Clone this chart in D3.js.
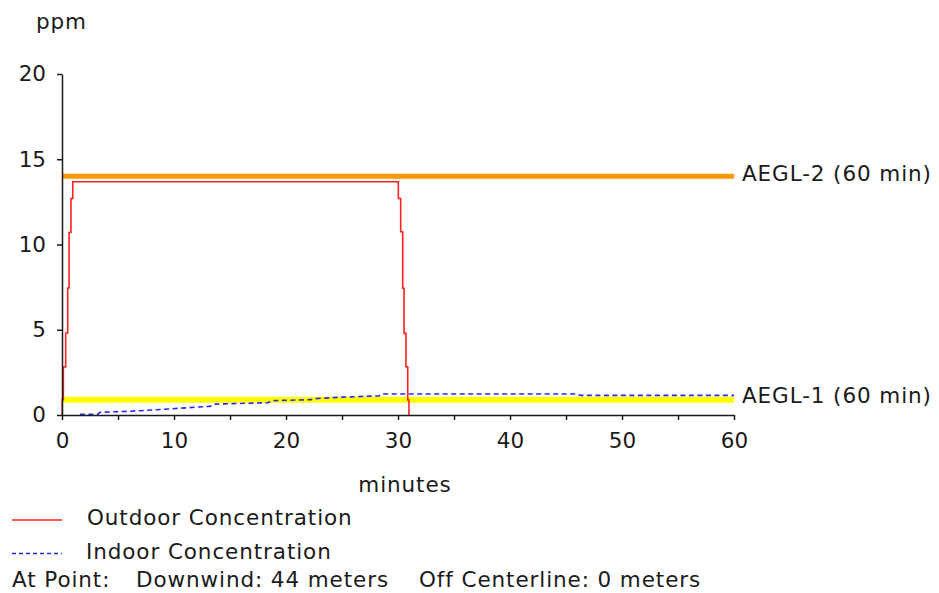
<!DOCTYPE html>
<html>
<head>
<meta charset="utf-8">
<script src="https://cdn.jsdelivr.net/npm/d3@7"></script>
<style>
  body { margin: 0; background: #fff; }
  svg text { font-family: "DejaVu Sans", Verdana, sans-serif; fill: #1a1a1a; font-size: 21.5px; }
  .label { letter-spacing: 0.9px; }
</style>
</head>
<body>
<svg id="chart" width="939" height="593"></svg>
<script>
// Outdoor concentration (ppm) by time (minutes); each value holds until the next time
const outdoorTimes  = [0, 0.02, 0.12, 0.33, 0.51, 0.63, 0.8, 0.96, 30.03, 30.24, 30.42, 30.54, 30.71, 30.87, 30.98];
const outdoorValues = [0, 0.9, 2.82, 4.81, 7.45, 10.7, 12.7, 13.68, 12.7, 10.75, 7.43, 4.79, 2.83, 0.88, 0];

// Indoor concentration (ppm) by time (minutes)
const indoorTimes  = [1.6, 3.2, 3.4, 6, 9, 12, 13.4, 13.7, 18.4, 18.7, 22.3, 22.6, 25, 28.3, 28.6, 46, 46.3, 60];
const indoorValues = [0.04, 0.05, 0.16, 0.22, 0.33, 0.46, 0.52, 0.64, 0.72, 0.84, 0.9, 0.96, 1.05, 1.12, 1.23, 1.23, 1.15, 1.15];

// Threshold levels
const aeglNames  = ["AEGL-2 (60 min)", "AEGL-1 (60 min)"];
const aeglValues = [14, 0.9];
const aeglColors = ["#ff9900", "#ffff00"];

const xTicks = [0, 5, 10, 15, 20, 25, 30, 35, 40, 45, 50, 55, 60];
const xTickLabels = [0, 10, 20, 30, 40, 50, 60];
const yTicks = [0, 5, 10, 15, 20];

const svg = d3.select("#chart");
const x = d3.scaleLinear().domain([0, 60]).range([62, 734]);
const y = d3.scaleLinear().domain([0, 20]).range([415, 74]);

// threshold bands
const aegl = aeglNames.map((n, i) => ({ name: n, value: aeglValues[i], color: aeglColors[i] }));
svg.selectAll("line.aegl").data(aegl).join("line")
  .attr("class", "aegl")
  .attr("x1", x(0)).attr("x2", x(60))
  .attr("y1", d => y(d.value)).attr("y2", d => y(d.value))
  .attr("stroke", d => d.color)
  .attr("stroke-width", (d, i) => i === 0 ? 5 : 6);
svg.selectAll("text.aegl").data(aegl).join("text")
  .attr("class", "aegl label")
  .attr("x", x(60) + 8).attr("y", (d, i) => y(d.value) + (i === 0 ? 5 : 3.5))
  .text(d => d.name);

// concentration lines
const outdoor = outdoorTimes.map((t, i) => [t, outdoorValues[i]]);
const indoor = indoorTimes.map((t, i) => [t, indoorValues[i]]);
const line = d3.line().x(d => x(d[0])).y(d => y(d[1]));
const stepLine = d3.line().x(d => x(d[0])).y(d => y(d[1])).curve(d3.curveStepAfter);

svg.append("path").datum(indoor)
  .attr("d", line)
  .attr("fill", "none")
  .attr("stroke", "#2a2aee")
  .attr("stroke-width", 1.6)
  .attr("stroke-dasharray", "5,3.5");

svg.append("path").datum(outdoor)
  .attr("d", stepLine)
  .attr("fill", "none")
  .attr("stroke", "#ff2020")
  .attr("stroke-width", 1.6);

// axes
const xAxis = d3.axisBottom(x).tickValues(xTicks).tickSize(5).tickSizeOuter(0)
  .tickFormat(d => xTickLabels.includes(d) ? d : "");
const gx = svg.append("g").attr("transform", `translate(0,${y(0)})`).call(xAxis);
const yAxis = d3.axisLeft(y).tickValues(yTicks).tickSize(5).tickSizeOuter(0);
const gy = svg.append("g").attr("transform", `translate(${x(0)},0)`).call(yAxis);

[gx, gy].forEach(g => {
  g.select(".domain").attr("stroke", "#1a1a1a").attr("stroke-width", 1.5);
  g.selectAll(".tick line").attr("stroke", "#1a1a1a").attr("stroke-width", 1.5);
  g.selectAll(".tick text").attr("fill", "#1a1a1a")
    .style("font-size", "21.5px")
    .style("font-family", "'DejaVu Sans', Verdana, sans-serif");
});
gx.selectAll(".tick text").attr("y", 33).attr("dy", 0);
gy.selectAll(".tick text").attr("x", -16);

svg.append("text").attr("class", "label").attr("x", 36).attr("y", 29).text("ppm");
svg.append("text").attr("class", "label").attr("x", 405).attr("y", 492)
  .attr("text-anchor", "middle").text("minutes");

// legend
const legend = [
  { label: "Outdoor Concentration", color: "#ff2020", dash: null, y: 520, base: 524.5, tx: 87 },
  { label: "Indoor Concentration", color: "#2a2aee", dash: "4,3", y: 553.5, base: 558.5, tx: 86 }
];
legend.forEach(l => {
  svg.append("line").attr("x1", 12).attr("x2", 62).attr("y1", l.y).attr("y2", l.y)
    .attr("stroke", l.color).attr("stroke-width", 1.5)
    .attr("stroke-dasharray", l.dash);
  svg.append("text").attr("class", "label").attr("x", l.tx).attr("y", l.base).text(l.label);
});

// location line
const pointParts = [
  { text: "At Point:", x: 12 },
  { text: "Downwind: 44 meters", x: 136 },
  { text: "Off Centerline: 0 meters", x: 419 }
];
svg.selectAll("text.point").data(pointParts).join("text")
  .attr("class", "point label")
  .attr("x", d => d.x).attr("y", 587)
  .text(d => d.text);
</script>
</body>
</html>
